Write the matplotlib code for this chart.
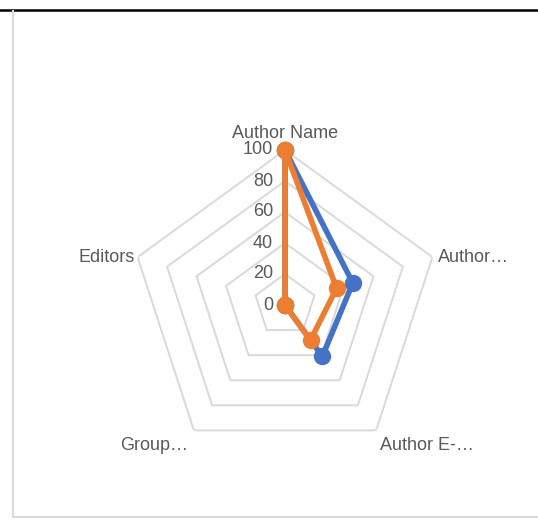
import numpy as np
import matplotlib
matplotlib.use('Agg')
import matplotlib.pyplot as plt
from matplotlib.lines import Line2D

# data
categories = ['Author Name', 'Author…', 'Author E-…', 'Group…', 'Editors']
series_blue = [100, 46, 41, 0, 0]
series_orange = [100, 35, 28, 0, 0]
ring_values = [20, 40, 60, 80, 100]
tick_values = [0, 20, 40, 60, 80, 100]

blue = '#4472C4'
orange = '#ED7D31'
grid_col = '#D9D9D9'
text_col = '#595959'

plt.rcParams['font.family'] = ['Liberation Sans', 'DejaVu Sans']

fig = plt.figure(figsize=(5.38, 5.20), dpi=100)
fig.patch.set_facecolor('white')

# polar axes centred at (285, 305) px, radius 155 px
W, H = 538, 520
cx, cy, R = 285, 305, 155
ax = fig.add_axes([(cx - R) / W, (H - cy - R) / H, 2 * R / W, 2 * R / H],
                  projection='polar')
ax.set_theta_offset(np.pi / 2)
ax.set_theta_direction(-1)
ax.set_ylim(0, 100)
ax.set_xticks([])
ax.set_yticks([])
ax.grid(False)
ax.spines['polar'].set_visible(False)
ax.patch.set_alpha(0)

n = len(categories)
angles = np.arange(n) * 2 * np.pi / n
closed = np.append(angles, angles[0])

# pentagon gridlines
for r in ring_values:
    ax.plot(closed, [r] * (n + 1), color=grid_col, lw=1.4, zorder=1)

# series
for vals, col in [(series_blue, blue), (series_orange, orange)]:
    v = np.append(vals, vals[0])
    ax.plot(closed, v, color=col, lw=4.0, marker='o', markersize=11.5,
            solid_joinstyle='round', zorder=3, clip_on=False)

# value tick labels along the top spoke
for t in tick_values:
    ax.annotate(str(t), xy=(0, t), xytext=(-12, 0), textcoords='offset pixels',
                ha='right', va='center', fontsize=13, color=text_col,
                annotation_clip=False)

# category labels
label_opts = [
    ((0, 8), 'center', 'bottom'),
    ((6, 0), 'left', 'center'),
    ((4, -7), 'left', 'top'),
    ((-6, -7), 'right', 'top'),
    ((-3, 0), 'right', 'center'),
]
for ang, lab, (off, ha, va) in zip(angles, categories, label_opts):
    ax.annotate(lab, xy=(ang, 100), xytext=off, textcoords='offset pixels',
                ha=ha, va=va, fontsize=13, color=text_col,
                annotation_clip=False)

# chart frame: black line on top, light gray left and bottom
fig.add_artist(Line2D([0, 1], [1 - 9.5 / H, 1 - 9.5 / H], color='black', lw=1.8,
                      transform=fig.transFigure))
fig.add_artist(Line2D([12.5 / W, 12.5 / W], [1 - 517 / H, 1 - 11 / H],
                      color=grid_col, lw=1.5, transform=fig.transFigure))
fig.add_artist(Line2D([12.5 / W, 1], [1 - 517 / H, 1 - 517 / H],
                      color=grid_col, lw=1.5, transform=fig.transFigure))

fig.savefig('out.png', dpi=100)
